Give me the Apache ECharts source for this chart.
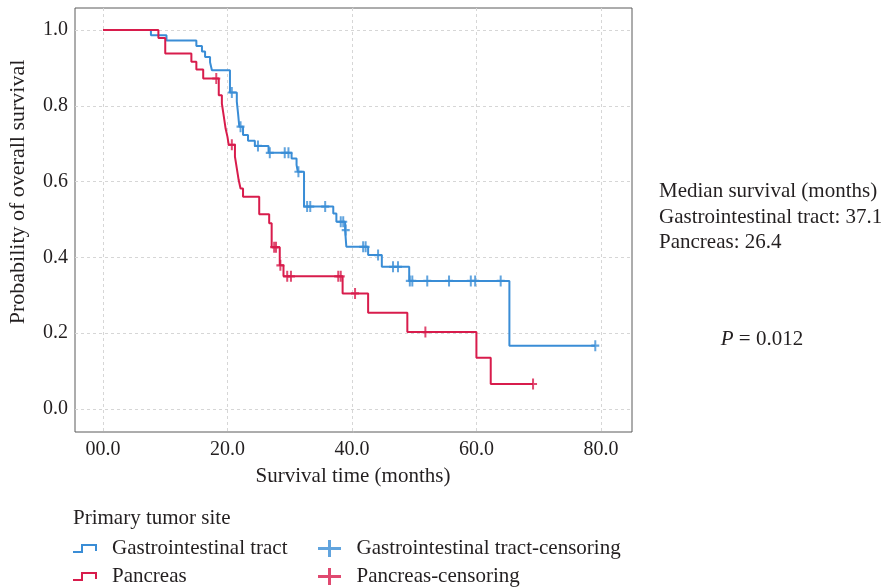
<!DOCTYPE html>
<html>
<head>
<meta charset="utf-8">
<script src="https://cdn.jsdelivr.net/npm/echarts@6/dist/echarts.min.js"></script>
<style>
  html, body { margin: 0; padding: 0; background: #fff; }
  #main { width: 884px; height: 588px; }
</style>
</head>
<body>
<div id="main"></div>
<script>
// survival curves (time in months, probability)
const giTime = [0, 7.7, 10.2, 15.0, 15.9, 16.4, 17.2, 17.5, 20.4, 21.5, 21.7, 21.9, 22.5, 23.3, 24.4, 26.6, 30.3, 31.1, 31.3, 32.3, 37.0, 37.5, 38.9, 39.1, 42.6, 44.8, 49.2, 65.3, 79.1]
const giSurv = [1.0, 0.986, 0.972, 0.958, 0.943, 0.929, 0.915, 0.894, 0.835, 0.811, 0.78, 0.745, 0.723, 0.708, 0.694, 0.676, 0.661, 0.644, 0.626, 0.534, 0.516, 0.494, 0.472, 0.428, 0.406, 0.375, 0.338, 0.167, 0.167]
const giCensorTime = [20.7, 22.1, 24.9, 26.8, 29.2, 29.8, 31.4, 32.8, 33.3, 35.7, 38.2, 38.6, 39.0, 41.8, 42.2, 44.2, 46.6, 47.4, 49.3, 49.7, 52.1, 55.6, 59.1, 59.8, 63.9, 79.1]
const giCensorSurv = [0.835, 0.745, 0.694, 0.676, 0.676, 0.676, 0.626, 0.534, 0.534, 0.534, 0.494, 0.494, 0.472, 0.428, 0.428, 0.406, 0.375, 0.375, 0.338, 0.338, 0.338, 0.338, 0.338, 0.338, 0.338, 0.167]

const pcTime = [0, 8.9, 10.0, 14.2, 15.0, 16.1, 18.6, 19.1, 19.3, 19.5, 19.7, 20.0, 20.2, 21.2, 21.5, 21.8, 22.1, 22.5, 25.1, 26.7, 27.1, 28.4, 29.0, 38.5, 42.6, 48.9, 60.0, 62.3, 69.1]
const pcSurv = [1.0, 0.979, 0.938, 0.916, 0.896, 0.872, 0.828, 0.806, 0.784, 0.762, 0.740, 0.718, 0.697, 0.666, 0.635, 0.604, 0.582, 0.560, 0.514, 0.490, 0.427, 0.379, 0.350, 0.305, 0.254, 0.203, 0.135, 0.066, 0.066]
const pcCensorTime = [18.2, 20.7, 27.5, 27.8, 28.5, 29.6, 30.2, 37.8, 38.2, 40.5, 51.8, 69.1]
const pcCensorSurv = [0.872, 0.697, 0.427, 0.427, 0.379, 0.350, 0.350, 0.350, 0.350, 0.305, 0.203, 0.066]

const xTicks = [0, 20, 40, 60, 80]
const yTicks = [0, 0.2, 0.4, 0.6, 0.8, 1.0]

const FONT = '"Liberation Serif", "DejaVu Serif", serif'
const BLUE = '#3a8dd6'
const RED = '#d81c4c'
const TEXT = '#231f20'

const stepIcon = 'path://M0,7H8V0H24V7H22V2H10V9H0Z'
const plusIcon = 'path://M0,7H10V0H13V7H23V10H13V17H10V10H0Z'
const censorMark = 'path://M3,0H5V4H8V6H5V10H3V6H0V4H3Z'

function zip(xs, ys) {
  return xs.map((x, i) => [x, ys[i]])
}

const chart = echarts.init(document.getElementById('main'), null, { renderer: 'canvas' })

const gridLine = { show: true, lineStyle: { color: '#d6d6d6', type: [3, 3], width: 1 } }
const legendText = { fontFamily: FONT, fontSize: 21, color: TEXT, padding: [0, 0, 0, 10] }

chart.setOption({
  animation: false,
  textStyle: { fontFamily: FONT },
  grid: { left: 75, right: 252, top: 8, bottom: 156, show: true, borderColor: '#5a5a5a', borderWidth: 1 },
  xAxis: {
    type: 'value', min: -4.5, max: 85,
    axisLine: { show: false },
    axisTick: { show: false, customValues: xTicks },
    splitLine: gridLine,
    axisLabel: {
      customValues: xTicks, margin: 8,
      fontFamily: FONT, fontSize: 20, color: TEXT,
      formatter: v => v === 0 ? '00.0' : v.toFixed(1)
    }
  },
  yAxis: {
    type: 'value', min: -0.0607, max: 1.058,
    axisLine: { show: false },
    axisTick: { show: false, customValues: yTicks },
    splitLine: gridLine,
    axisLabel: {
      customValues: yTicks, margin: 7,
      fontFamily: FONT, fontSize: 20, color: TEXT,
      formatter: v => v.toFixed(1)
    }
  },
  legend: [
    {
      orient: 'vertical', left: 73, top: 538, itemGap: 7, padding: 0,
      itemWidth: 24, itemHeight: 9,
      textStyle: legendText,
      data: [
        { name: 'Gastrointestinal tract', icon: stepIcon },
        { name: 'Pancreas', icon: stepIcon }
      ]
    },
    {
      orient: 'vertical', left: 318, top: 538, itemGap: 7, padding: 0,
      itemWidth: 24, itemHeight: 17,
      textStyle: legendText,
      data: [
        { name: 'Gastrointestinal tract-censoring', icon: plusIcon },
        { name: 'Pancreas-censoring', icon: plusIcon }
      ]
    }
  ],
  graphic: [
    {
      type: 'text', x: 18, y: 192, rotation: Math.PI / 2,
      style: { text: 'Probability of overall survival', font: '22px ' + FONT, fill: TEXT, align: 'center', verticalAlign: 'middle' }
    },
    {
      type: 'text', x: 353, y: 476,
      style: { text: 'Survival time (months)', font: '21px ' + FONT, fill: TEXT, align: 'center', verticalAlign: 'middle' }
    },
    {
      type: 'text', x: 73, y: 518,
      style: { text: 'Primary tumor site', font: '21px ' + FONT, fill: TEXT, align: 'left', verticalAlign: 'middle' }
    },
    {
      type: 'text', x: 659, y: 179,
      style: {
        text: 'Median survival (months)\nGastrointestinal tract: 37.1\nPancreas: 26.4',
        font: '21px ' + FONT, fill: TEXT, lineHeight: 25.5, align: 'left', verticalAlign: 'top'
      }
    },
    {
      type: 'text', x: 762, y: 339,
      style: {
        text: '{i|P} = 0.012',
        font: '21px ' + FONT, fill: TEXT, align: 'center', verticalAlign: 'middle',
        rich: { i: { fontStyle: 'italic', fontFamily: FONT, fontSize: 21 } }
      }
    }
  ],
  series: [
    {
      name: 'Gastrointestinal tract', type: 'line', step: 'end',
      data: zip(giTime, giSurv), showSymbol: false,
      itemStyle: { color: BLUE }, lineStyle: { color: BLUE, width: 2 }, z: 2
    },
    {
      name: 'Pancreas', type: 'line', step: 'end',
      data: zip(pcTime, pcSurv), showSymbol: false,
      itemStyle: { color: RED }, lineStyle: { color: RED, width: 2 }, z: 2
    },
    {
      name: 'Gastrointestinal tract-censoring', type: 'scatter',
      data: zip(giCensorTime, giCensorSurv),
      symbol: censorMark, symbolSize: [8, 11],
      itemStyle: { color: BLUE }, z: 3
    },
    {
      name: 'Pancreas-censoring', type: 'scatter',
      data: zip(pcCensorTime, pcCensorSurv),
      symbol: censorMark, symbolSize: [8, 11],
      itemStyle: { color: RED }, z: 3
    }
  ]
})
</script>
</body>
</html>
